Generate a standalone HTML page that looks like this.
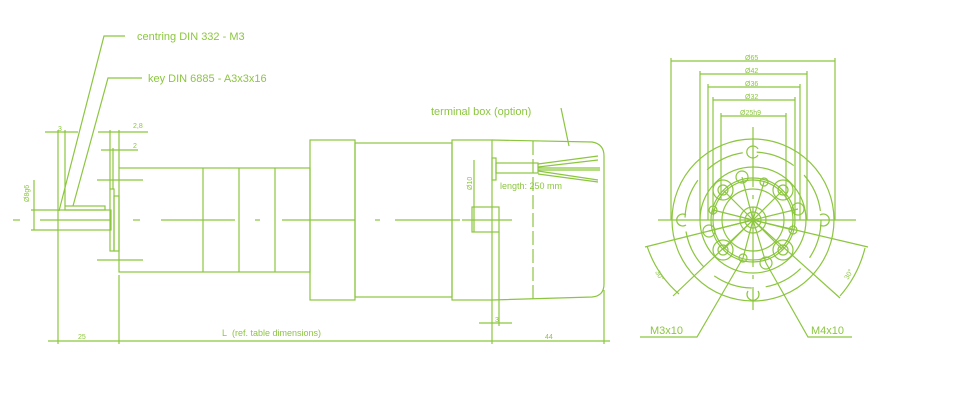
<!DOCTYPE html>
<html><head><meta charset="utf-8"><style>
html,body{margin:0;padding:0;background:#fff;}
svg{display:block;}
text{font-family:"Liberation Sans",sans-serif;fill:#8cc63f;}
</style></head><body>
<svg width="980" height="400" viewBox="0 0 980 400" xmlns="http://www.w3.org/2000/svg">
<g stroke="#8cc63f" fill="none" stroke-width="1.2">
<polyline points="125,36 104,36 59,211"/>
<polyline points="142,78 108,78 73,206"/>
<line x1="13" y1="220" x2="20" y2="220"/>
<line x1="40" y1="220" x2="110" y2="220"/>
<line x1="133" y1="220" x2="140" y2="220"/>
<line x1="161" y1="220" x2="235" y2="220"/>
<line x1="255" y1="220" x2="260" y2="220"/>
<line x1="282" y1="220" x2="355" y2="220"/>
<line x1="375" y1="220" x2="380" y2="220"/>
<line x1="395" y1="220" x2="460" y2="220"/>
<line x1="462" y1="220" x2="512" y2="220"/>
<rect x="58" y="210" width="53" height="20"/>
<rect x="65" y="206" width="40" height="4"/>
<line x1="31" y1="210" x2="58" y2="210"/>
<line x1="31" y1="230" x2="58" y2="230"/>
<line x1="34" y1="180" x2="34" y2="230"/>
<rect x="110" y="189" width="4" height="62"/>
<rect x="114" y="196" width="5" height="55"/>
<line x1="97" y1="180" x2="143" y2="180"/>
<line x1="97" y1="260" x2="143" y2="260"/>
<line x1="45" y1="132" x2="78" y2="132"/><line x1="58" y1="130" x2="58" y2="210"/><line x1="65" y1="130" x2="65" y2="206"/>
<line x1="98" y1="132" x2="148" y2="132"/><line x1="110" y1="130" x2="110" y2="189"/><line x1="119" y1="130" x2="119" y2="168"/>
<line x1="101" y1="150" x2="138" y2="150"/><line x1="113" y1="148" x2="113" y2="189"/>
<rect x="119" y="168" width="191" height="104"/>
<line x1="203" y1="168" x2="203" y2="272"/>
<line x1="239" y1="168" x2="239" y2="272"/>
<line x1="275" y1="168" x2="275" y2="272"/>
<rect x="310" y="140" width="45" height="160"/>
<rect x="355" y="143" width="97" height="154"/>
<rect x="452" y="140" width="40" height="160"/>
<path d="M492,140 L592,142 Q604,144 604,156 L604,284 Q604,296 592,297 L492,300"/>
<line x1="533" y1="141" x2="533" y2="299" stroke-dasharray="14,4"/>
<line x1="561" y1="108" x2="569" y2="146"/>
<rect x="492" y="158" width="4" height="22"/>
<rect x="496" y="163" width="42" height="10"/>
<polyline points="538,164 598,156"/><polyline points="538,167 598,160"/>
<line x1="538" y1="168" x2="600" y2="168"/><line x1="538" y1="170" x2="600" y2="170"/>
<polyline points="538,171 598,180"/><polyline points="538,174 598,182"/>
<rect x="472" y="207" width="27" height="25"/>
<line x1="474" y1="160" x2="474" y2="232"/>
<line x1="499" y1="232" x2="499" y2="326"/>
<line x1="479" y1="323" x2="512" y2="323"/>
<line x1="58" y1="230" x2="58" y2="344"/>
<line x1="119" y1="275" x2="119" y2="344"/>
<line x1="492" y1="300" x2="492" y2="344"/>
<line x1="604" y1="290" x2="604" y2="344"/>
<line x1="48" y1="341" x2="610" y2="341"/>
</g>
<g font-size="7">
<text x="58" y="131">3</text><text x="133" y="128">2,8</text><text x="133" y="148">2</text>
<text x="495" y="322" font-size="7">3</text>
<text x="78" y="339">25</text><text x="545" y="339">44</text>
<text x="29" y="202" transform="rotate(-90 29 202)">Ø8g6</text>
<text x="472" y="190" transform="rotate(-90 472 190)">Ø10</text>
</g>
<g font-size="11">
<text x="137" y="40">centring DIN 332 - M3</text>
<text x="148" y="82">key DIN 6885 - A3x3x16</text>
<text x="431" y="115">terminal box (option)</text>
</g>
<text x="500" y="189" font-size="9">length: 250 mm</text>
<text x="222" y="336" font-size="9">L&#160;&#160;(ref. table dimensions)</text>
<g stroke="#8cc63f" fill="none" stroke-width="1.2">
<circle cx="753" cy="220" r="81"/>
<circle cx="753" cy="220" r="68" stroke-dasharray="40,14"/>
<circle cx="753" cy="220" r="53"/>
<circle cx="753" cy="220" r="42"/>
<circle cx="753" cy="220" r="40"/>
<circle cx="753" cy="220" r="31"/>
<circle cx="753" cy="220" r="13"/>
<circle cx="753" cy="220" r="8"/>
<line x1="658" y1="220" x2="856" y2="220"/>
<line x1="753" y1="127" x2="753" y2="310" stroke-dasharray="60,8,4,8"/>
<g>
<line x1="753" y1="220" x2="723" y2="190"/><line x1="753" y1="220" x2="783" y2="190"/>
<line x1="753" y1="220" x2="723" y2="250"/><line x1="753" y1="220" x2="783" y2="250"/>
<line x1="753" y1="220" x2="742" y2="177"/><line x1="753" y1="220" x2="798" y2="209"/>
<line x1="753" y1="220" x2="709" y2="231"/><line x1="753" y1="220" x2="766" y2="263"/>
<line x1="753" y1="220" x2="764" y2="182"/><line x1="753" y1="220" x2="713" y2="210"/>
<line x1="753" y1="220" x2="793" y2="230"/><line x1="753" y1="220" x2="743" y2="258"/>
</g>
<g>
<circle cx="723" cy="190" r="10"/><circle cx="723" cy="190" r="5"/>
<circle cx="783" cy="190" r="10"/><circle cx="783" cy="190" r="5"/>
<circle cx="723" cy="250" r="10"/><circle cx="723" cy="250" r="5"/>
<circle cx="783" cy="250" r="10"/><circle cx="783" cy="250" r="5"/>
<circle cx="742" cy="177" r="6"/><circle cx="798" cy="209" r="6"/>
<circle cx="709" cy="231" r="6"/><circle cx="766" cy="263" r="6"/>
<circle cx="764" cy="182" r="4"/><circle cx="713" cy="210" r="4"/>
<circle cx="793" cy="230" r="4"/><circle cx="743" cy="258" r="4"/>
</g>
<path d="M758,149 A6,6 0 1 0 758,155"/>
<path d="M686,215 A6,6 0 1 0 686,225"/>
<path d="M820,215 A6,6 0 1 1 820,225"/>
<path d="M748,291 A6,6 0 1 0 758,291"/>
<line x1="753" y1="220" x2="645" y2="247"/>
<line x1="753" y1="220" x2="868" y2="247"/>
<line x1="753" y1="220" x2="673" y2="296"/>
<line x1="753" y1="220" x2="840" y2="298"/>
<path d="M647,246 A108,108 0 0 0 679,294"/>
<path d="M865,248 A115,115 0 0 1 840,296"/>
<line x1="671" y1="61" x2="835" y2="61"/><line x1="671" y1="58" x2="671" y2="220"/><line x1="835" y1="58" x2="835" y2="220"/>
<line x1="700" y1="74" x2="807" y2="74"/><line x1="700" y1="71" x2="700" y2="220"/><line x1="807" y1="71" x2="807" y2="220"/>
<line x1="708" y1="87" x2="800" y2="87"/><line x1="708" y1="84" x2="708" y2="220"/><line x1="800" y1="84" x2="800" y2="220"/>
<line x1="713" y1="100" x2="795" y2="100"/><line x1="713" y1="97" x2="713" y2="215"/><line x1="795" y1="97" x2="795" y2="215"/>
<line x1="721" y1="116" x2="786" y2="116"/><line x1="721" y1="113" x2="721" y2="200"/><line x1="786" y1="113" x2="786" y2="200"/>
<polyline points="743,258 697,337 640,337"/>
<polyline points="766,263 808,337 852,337"/>
</g>
<g font-size="7">
<text x="745" y="60">Ø65</text><text x="745" y="73">Ø42</text><text x="745" y="86">Ø36</text>
<text x="745" y="99">Ø32</text><text x="740" y="115">Ø25h9</text>
<text x="655" y="272" transform="rotate(60 655 272)">30°</text>
<text x="848" y="280" transform="rotate(-60 848 280)">30°</text>
</g>
<text x="650" y="334" font-size="11">M3x10</text>
<text x="811" y="334" font-size="11">M4x10</text>
</svg>
</body></html>
